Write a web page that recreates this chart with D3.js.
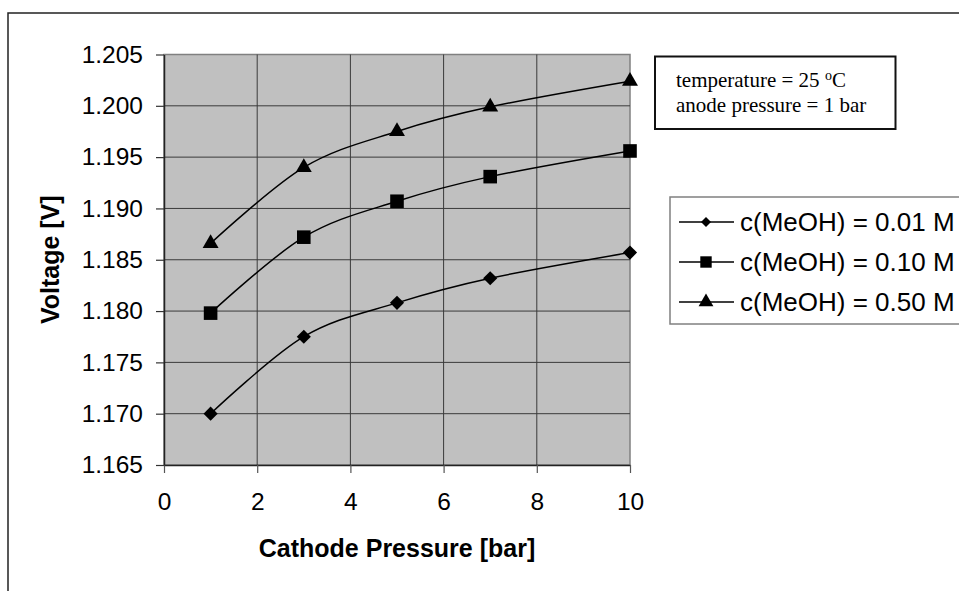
<!DOCTYPE html>
<html>
<head>
<meta charset="utf-8">
<script src="https://cdn.jsdelivr.net/npm/d3@7"></script>
<style>
  body { margin: 0; background: #fff; }
  svg { display: block; }
  .tick text { font-family: "Liberation Sans", Arial, sans-serif; font-size: 24.5px; fill: #000; }
</style>
</head>
<body>
<div id="chart"></div>
<script>
  // cathode pressure [bar] and measured cell voltage [V]
  const pressure = [1, 3, 5, 7, 10];
  const v001 = [1.1700, 1.1775, 1.1808, 1.1832, 1.1857];
  const v010 = [1.1798, 1.1872, 1.1907, 1.1931, 1.1956];
  const v050 = [1.1866, 1.1940, 1.1975, 1.1999, 1.2024];
  const seriesNames = ["c(MeOH) = 0.01 M", "c(MeOH) = 0.10 M", "c(MeOH) = 0.50 M"];
  const xTicks = [0, 2, 4, 6, 8, 10];
  const yTicks = [1.165, 1.170, 1.175, 1.180, 1.185, 1.190, 1.195, 1.200, 1.205];

  const W = 959, H = 591;
  const plot = { left: 164, top: 54.5, right: 630, bottom: 465 };

  const svg = d3.select("#chart").append("svg")
    .attr("width", W)
    .attr("height", H);

  // outer chart frame (runs off the right and bottom of the picture)
  svg.append("path")
    .attr("d", `M8,${H + 5}V13H${W + 5}`)
    .attr("fill", "none")
    .attr("stroke", "#222")
    .attr("stroke-width", 1.5);

  const x = d3.scaleLinear().domain([0, 10]).range([plot.left, plot.right]);
  const y = d3.scaleLinear().domain([1.165, 1.205]).range([plot.bottom, plot.top]);

  svg.append("rect")
    .attr("x", plot.left)
    .attr("y", plot.top)
    .attr("width", plot.right - plot.left)
    .attr("height", plot.bottom - plot.top)
    .attr("fill", "#c0c0c0")
    .attr("stroke", "#808080")
    .attr("stroke-width", 1.5);

  // gridlines
  svg.append("g")
    .selectAll("line.gx")
    .data(xTicks.slice(1, -1))
    .enter().append("line")
      .attr("x1", d => x(d)).attr("x2", d => x(d))
      .attr("y1", plot.top).attr("y2", plot.bottom)
      .attr("stroke", "#3a3a3a").attr("stroke-width", 1);

  svg.append("g")
    .selectAll("line.gy")
    .data(yTicks.slice(1, -1))
    .enter().append("line")
      .attr("x1", plot.left).attr("x2", plot.right)
      .attr("y1", d => y(d)).attr("y2", d => y(d))
      .attr("stroke", "#3a3a3a").attr("stroke-width", 1);

  // axes
  const xAxis = svg.append("g")
    .attr("transform", `translate(0, ${plot.bottom})`)
    .call(d3.axisBottom(x).tickValues(xTicks).tickSize(8).tickPadding(20).tickSizeOuter(0));
  xAxis.select(".domain").attr("stroke", "#222").attr("stroke-width", 1.5);
  xAxis.selectAll(".tick line").attr("stroke", "#555").attr("stroke-width", 1.2);

  const yAxis = svg.append("g")
    .attr("transform", `translate(${plot.left}, 0)`)
    .call(d3.axisLeft(y).tickValues(yTicks).tickFormat(d3.format(".3f")).tickSize(8).tickPadding(13).tickSizeOuter(0));
  yAxis.select(".domain").attr("stroke", "#222").attr("stroke-width", 1.5);
  yAxis.selectAll(".tick line").attr("stroke", "#333").attr("stroke-width", 1.2);

  svg.append("text")
    .attr("x", (plot.left + plot.right) / 2)
    .attr("y", 557)
    .attr("text-anchor", "middle")
    .style("font-family", "'Liberation Sans', Arial, sans-serif")
    .style("font-size", "25px")
    .style("font-weight", "bold")
    .text("Cathode Pressure [bar]");

  svg.append("text")
    .attr("transform", `translate(59, ${(plot.top + plot.bottom) / 2}) rotate(-90)`)
    .attr("text-anchor", "middle")
    .style("font-family", "'Liberation Sans', Arial, sans-serif")
    .style("font-size", "25px")
    .style("font-weight", "bold")
    .text("Voltage [V]");

  // series
  const series = [
    { name: seriesNames[0], values: v001, symbol: d3.symbolSquare, size: 100, rotate: 45 },
    { name: seriesNames[1], values: v010, symbol: d3.symbolSquare, size: 185, rotate: 0 },
    { name: seriesNames[2], values: v050, symbol: d3.symbolTriangle, size: 110, rotate: 0 }
  ];

  const line = d3.line()
    .x(d => x(d[0]))
    .y(d => y(d[1]))
    .curve(d3.curveCardinal.tension(0));

  series.forEach(s => {
    const pts = pressure.map((p, i) => [p, s.values[i]]);
    svg.append("path")
      .datum(pts)
      .attr("d", line)
      .attr("fill", "none")
      .attr("stroke", "#000")
      .attr("stroke-width", 1.5);

    svg.append("g")
      .selectAll("path")
      .data(pts)
      .enter().append("path")
        .attr("d", d3.symbol().type(s.symbol).size(s.size))
        .attr("transform", d => `translate(${x(d[0])}, ${y(d[1])}) rotate(${s.rotate})`)
        .attr("fill", "#000");
  });

  // annotation box
  const note = svg.append("g");
  note.append("rect")
    .attr("x", 655).attr("y", 56.5)
    .attr("width", 240.5).attr("height", 72.5)
    .attr("fill", "#fff")
    .attr("stroke", "#111")
    .attr("stroke-width", 2);
  const noteText = note.append("text")
    .style("font-family", "'Liberation Serif', 'Times New Roman', serif")
    .style("font-size", "21px")
    .attr("fill", "#000");
  const l1 = noteText.append("tspan").attr("x", 676).attr("y", 87);
  l1.append("tspan").text("temperature = 25 ");
  l1.append("tspan").attr("dy", -7).style("font-size", "14px").text("o");
  l1.append("tspan").attr("dy", 7).text("C");
  noteText.append("tspan").attr("x", 676).attr("y", 112).text("anode pressure = 1 bar");

  // legend
  const legend = svg.append("g");
  legend.append("rect")
    .attr("x", 670).attr("y", 197)
    .attr("width", 300).attr("height", 127)
    .attr("fill", "#fff")
    .attr("stroke", "#808080")
    .attr("stroke-width", 1.5);

  const legendSizes = [50, 130, 95];
  const rows = legend.selectAll("g.row")
    .data(series)
    .enter().append("g")
      .attr("class", "row")
      .attr("transform", (d, i) => `translate(0, ${222 + i * 40})`);

  rows.append("line")
    .attr("x1", 679).attr("x2", 734)
    .attr("stroke", "#000").attr("stroke-width", 1.5);

  rows.append("path")
    .attr("d", (d, i) => d3.symbol().type(d.symbol).size(legendSizes[i])())
    .attr("transform", d => `translate(706, 0) rotate(${d.rotate})`)
    .attr("fill", "#000");

  rows.append("text")
    .attr("x", 740)
    .attr("dy", "0.36em")
    .style("font-family", "'Liberation Sans', Arial, sans-serif")
    .style("font-size", "26px")
    .text(d => d.name);
</script>
</body>
</html>
